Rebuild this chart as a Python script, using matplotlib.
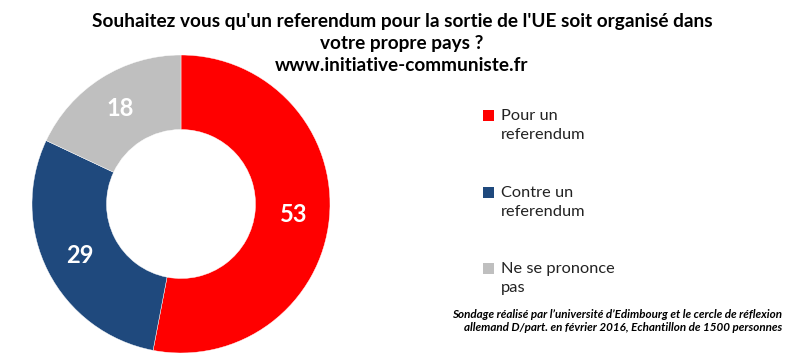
import matplotlib
matplotlib.use("Agg")
import matplotlib.pyplot as plt
from matplotlib.patches import Rectangle

categories = ["Pour un\nreferendum", "Contre un\nreferendum", "Ne se prononce\npas"]
values = [53, 29, 18]
colors = ["#FF0000", "#1F497D", "#BFBFBF"]

title = "Souhaitez vous qu'un referendum pour la sortie de l'UE soit organisé dans\nvotre propre pays ?\nwww.initiative-communiste.fr"
note = "Sondage réalisé par l\u2019université d\u2019Edimbourg et le cercle de réflexion\nallemand D/part. en février 2016, Echantillon de 1500 personnes"

W, H = 790, 356
fig = plt.figure(figsize=(W/100, H/100), dpi=100)
fig.patch.set_facecolor("white")

cx, cy, r = 181, 204, 149
ax = fig.add_axes([(cx - r)/W, (H - cy - r)/H, 2*r/W, 2*r/H])
wedges, texts, autotexts = ax.pie(values, colors=colors, startangle=90, counterclock=False,
       radius=1, wedgeprops=dict(width=0.5, edgecolor="white", linewidth=0.3),
       autopct=lambda p: f"{p:.0f}", pctdistance=0.76,
       textprops=dict(color="white", fontsize=17, fontweight="bold", family="Lato"))
ax.set_xlim(-1, 1); ax.set_ylim(-1, 1)
ax.set_aspect("equal")
ax.axis("off")

fig.text(402/W, 1 - 13/H, title, ha="center", va="top", fontsize=13.7, fontweight="bold",
         family="Lato", linespacing=1.35)

ys = [116, 193, 269]
for cat, col, y in zip(categories, colors, ys):
    fig.patches.append(Rectangle((483/W, 1 - (y + 5)/H), 11/W, 11/H, transform=fig.transFigure,
                                 facecolor=col, edgecolor="none"))
    fig.text(501/W, 1 - (y - 7)/H, cat, ha="left", va="top", fontsize=11.8, family="Lato",
             color="#222222", linespacing=1.45)

fig.text(782/W, 1 - 309/H, note, ha="right", va="top", fontsize=8.4, fontweight="bold",
         fontstyle="italic", family="Lato", linespacing=1.2)

fig.savefig("out.png", dpi=100, facecolor="white")
